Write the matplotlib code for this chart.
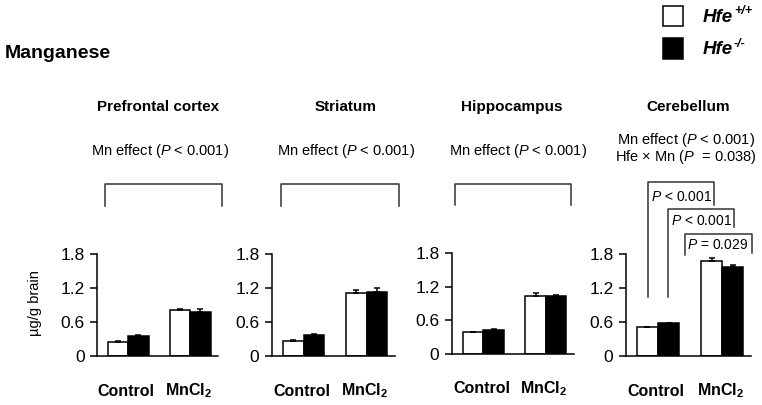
import matplotlib.pyplot as plt
import matplotlib.patches as mpatches

plt.rcParams['font.family'] = ['Liberation Sans', 'DejaVu Sans']
plt.rcParams['mathtext.fontset'] = 'custom'
plt.rcParams['mathtext.rm'] = 'Liberation Sans'
plt.rcParams['mathtext.it'] = 'Liberation Sans:italic'
plt.rcParams['mathtext.bf'] = 'Liberation Sans:bold'
plt.rcParams['mathtext.bfit'] = 'Liberation Sans:bold:italic'

W, H = 762, 405

# data (ug/g brain), Hfe+/+ (white) and Hfe-/- (black)
groups = ['Control', r'$\mathbf{MnCl}_{\mathbf{2}}$']
regions = ['Prefrontal cortex', 'Striatum', 'Hippocampus', 'Cerebellum']
wt_mean = [[0.24, 0.81], [0.26, 1.11], [0.39, 1.03], [0.51, 1.68]]
wt_err = [[0.02, 0.02], [0.02, 0.06], [0.01, 0.06], [0.01, 0.05]]
ko_mean = [[0.35, 0.78], [0.37, 1.13], [0.43, 1.03], [0.58, 1.57]]
ko_err = [[0.02, 0.05], [0.02, 0.07], [0.02, 0.02], [0.01, 0.04]]
yticks = [0, 0.6, 1.2, 1.8]

# layout in pixels: left, right, top, bottom of each axes
rects = [(97, 218, 254, 356), (272, 395, 254, 356),
         (452, 574, 253, 354), (626, 751, 254, 356)]
title_x = [158, 346, 512, 688]
effect_x = [160, 346, 518, 686]
bracket_x = [(-0.37, 1.52), (-0.35, 1.51), (-0.46, 1.41)]

fig = plt.figure(figsize=(W / 100, H / 100), dpi=100)


def fx(x):
    return x / W


def fy(y):
    return 1 - y / H


bw = 0.33
for i, (l, r, t, b) in enumerate(rects):
    ax = fig.add_axes([fx(l), fy(b), (r - l) / W, (b - t) / H])
    xs = [0, 1]
    ax.bar([x - bw / 2 for x in xs], wt_mean[i], bw, color='white',
           edgecolor='black', linewidth=1.1,
           yerr=[[0, 0], wt_err[i]], capsize=2.5,
           error_kw=dict(elinewidth=1.1, capthick=1.1, ecolor='black'))
    ax.bar([x + bw / 2 for x in xs], ko_mean[i], bw, color='black',
           edgecolor='black', linewidth=1.1,
           yerr=[[0, 0], ko_err[i]], capsize=2.5,
           error_kw=dict(elinewidth=1.1, capthick=1.1, ecolor='black'))
    ax.set_xlim(-0.5, 1.45)
    ax.set_ylim(0, 1.8)
    ax.set_yticks(yticks)
    ax.set_yticklabels(['0', '0.6', '1.2', '1.8'], fontsize=12.5)
    ax.set_xticks([])
    for s in ['top', 'right']:
        ax.spines[s].set_visible(False)
    for s in ['left', 'bottom']:
        ax.spines[s].set_linewidth(1.1)
    ax.tick_params(axis='y', length=5, width=1.1, pad=4)
    for x, g in zip(xs, groups):
        ax.text(x - 0.03, -0.62, g, ha='center', va='center',
                fontsize=11.5, fontweight='bold', clip_on=False)

    if i < 3:
        x0, x1 = bracket_x[i]
        ax.plot([x0, x0, x1, x1], [2.65, 3.03, 3.03, 2.65], color='#333333',
                lw=1.1, clip_on=False)
        fig.text(fx(effect_x[i]), fy(151), r'Mn effect ($\mathit{P}$ < 0.001)',
                 ha='center', va='center', fontsize=10.5)
    else:
        ax.plot([-0.16, -0.16, 0.875, 0.875], [1.04, 3.07, 3.07, 2.66],
                color='#333333', lw=1.1, clip_on=False)
        ax.plot([0.16, 0.16, 1.19, 1.19], [1.04, 2.59, 2.59, 2.28],
                color='#333333', lw=1.1, clip_on=False)
        ax.plot([0.42, 0.42, 1.47, 1.47], [1.78, 2.15, 2.15, 1.82],
                color='#333333', lw=1.1, clip_on=False)
        ax.text(0.84, 2.80, r'$\mathit{P}$ < 0.001', ha='right', va='center',
                fontsize=10, clip_on=False)
        ax.text(1.16, 2.39, r'$\mathit{P}$ < 0.001', ha='right', va='center',
                fontsize=10, clip_on=False)
        ax.text(1.41, 1.96, r'$\mathit{P}$ = 0.029', ha='right', va='center',
                fontsize=10, clip_on=False)
        fig.text(fx(effect_x[i]), fy(140), r'Mn effect ($\mathit{P}$ < 0.001)',
                 ha='center', va='center', fontsize=10.5)
        fig.text(fx(effect_x[i]), fy(157),
                 r'Hfe $\times$ Mn ($\mathit{P}$  = 0.038)',
                 ha='center', va='center', fontsize=10.5)
    fig.text(fx(title_x[i]), fy(107), regions[i], ha='center', va='center',
             fontsize=11, fontweight='bold')

fig.text(fx(35), fy(303), 'µg/g brain', rotation=90, ha='center',
         va='center', fontsize=10.5)
fig.text(fx(5), fy(53), 'Manganese', ha='left', va='center', fontsize=14,
         fontweight='bold')

# legend
fig.patches.append(mpatches.Rectangle((fx(663), fy(26)), 20 / W, 20 / H,
                                      transform=fig.transFigure,
                                      facecolor='white', edgecolor='black',
                                      lw=1.1))
fig.patches.append(mpatches.Rectangle((fx(663), fy(59)), 20 / W, 21 / H,
                                      transform=fig.transFigure,
                                      facecolor='black', edgecolor='black',
                                      lw=1.1))
for y, sup in [(17, '+/+'), (50, '-/-')]:
    fig.text(fx(703), fy(y), 'Hfe', ha='left', va='center', fontsize=13.5,
             fontweight='bold', fontstyle='italic')
    fig.text(fx(734), fy(y - 6), sup, ha='left', va='center', fontsize=9,
             fontweight='bold', fontstyle='italic')

fig.savefig('out.png', dpi=100)
